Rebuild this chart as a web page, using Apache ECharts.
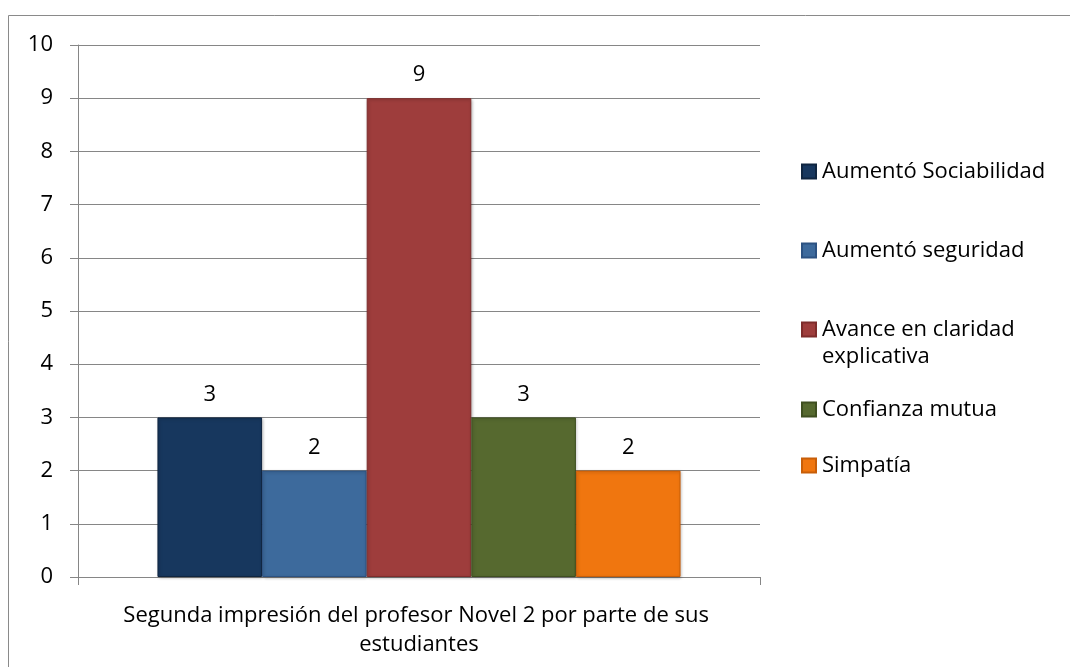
<!DOCTYPE html>
<html>
<head>
<meta charset="utf-8">
<script src="https://cdn.jsdelivr.net/npm/echarts@6/dist/echarts.min.js"></script>
<style>
html,body{margin:0;padding:0;background:#fff;}
#c{width:1070px;height:667px;}
</style>
</head>
<body>
<div id="c"></div>
<script>
var categories = ['Segunda impresión del profesor Novel 2 por parte de sus estudiantes'];
var seriesNames = ['Aumentó Sociabilidad', 'Aumentó seguridad', 'Avance en claridad explicativa', 'Confianza mutua', 'Simpatía'];
var seriesValues = [[3], [2], [9], [3], [2]];
var yTicks = [0, 1, 2, 3, 4, 5, 6, 7, 8, 9, 10];

var colors = ['#17375E', '#3D6A9C', '#9E3D3C', '#56692F', '#F0760F'];
var borders = ['#0f2540', '#2c5282', '#7e2c2b', '#3f4f20', '#c85e08'];
var FONT = 'Open Sans';
var FS = 22;

var chart = echarts.init(document.getElementById('c'));

var series = seriesNames.map(function (n, i) {
  return {
    name: n,
    type: 'bar',
    data: seriesValues[i],
    barGap: '0%',
    barCategoryGap: '23.3%',
    itemStyle: {
      color: colors[i],
      borderColor: borders[i],
      borderWidth: 1,
      shadowColor: 'rgba(0,0,0,0.25)',
      shadowBlur: 3,
      shadowOffsetX: 1,
      shadowOffsetY: 1
    },
    label: {
      show: true,
      position: 'top',
      distance: 12,
      color: '#000',
      fontFamily: FONT,
      fontSize: FS
    }
  };
});

var legendTops = [158, 237, 289, 396, 452];
var legends = seriesNames.map(function (n, i) {
  return {
    data: [n],
    left: 801,
    top: legendTops[i],
    orient: 'vertical',
    icon: 'rect',
    itemWidth: 14,
    itemHeight: 14,
    itemGap: 0,
    padding: 0,
    selectedMode: false,
    formatter: function (name) {
      if (name === 'Avance en claridad explicativa') return '\nAvance en claridad\nexplicativa';
      return name;
    },
    textStyle: {
      fontFamily: FONT,
      fontSize: FS,
      color: '#000',
      lineHeight: 27,
      padding: [0, 0, 0, 1]
    }
  };
});

chart.setOption({
  animation: false,
  color: colors,
  legend: legends,
  graphic: [{
    type: 'rect',
    shape: { x: 8.5, y: 15.5, width: 1200, height: 800 },
    style: { fill: 'none', stroke: '#8a8a8a', lineWidth: 1 },
    silent: true
  }],
  grid: { left: 78, right: 310, top: 45, bottom: 90 },
  xAxis: {
    type: 'category',
    data: categories,
    axisLine: { lineStyle: { color: '#868686' } },
    axisTick: { show: true, length: 8, lineStyle: { color: '#868686' } },
    axisLabel: {
      color: '#000',
      fontFamily: FONT,
      fontSize: FS,
      margin: 24,
      lineHeight: 29,
      width: 660,
      overflow: 'break',
      align: 'center'
    }
  },
  yAxis: {
    type: 'value',
    min: yTicks[0],
    max: yTicks[yTicks.length - 1],
    interval: 1,
    axisLine: { show: true, lineStyle: { color: '#868686' } },
    axisTick: { show: true, length: 8, lineStyle: { color: '#868686' } },
    splitLine: { lineStyle: { color: '#868686' } },
    axisLabel: {
      color: '#000',
      fontFamily: FONT,
      fontSize: FS,
      margin: 25
    }
  },
  series: series
});
</script>
</body>
</html>
